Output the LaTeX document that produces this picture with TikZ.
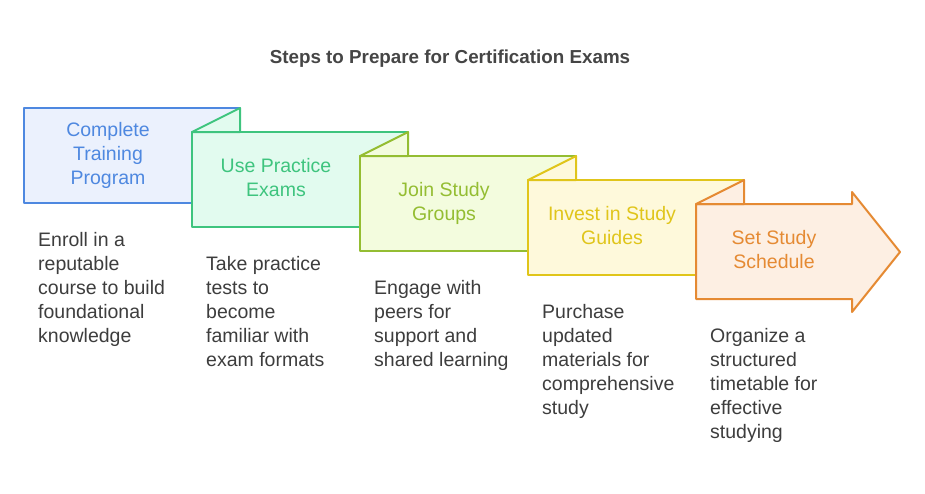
\documentclass[tikz,border=0pt]{standalone}
\usepackage{fontspec}
\setmainfont{Liberation Sans}
\definecolor{ink}{HTML}{3D3D3D}
\definecolor{titleink}{HTML}{454545}
\definecolor{stepblue}{HTML}{4E88E0}
\definecolor{backblue}{HTML}{EBF1FD}
\definecolor{stepgreen}{HTML}{3EC47E}
\definecolor{backgreen}{HTML}{E2FBEF}
\definecolor{steplime}{HTML}{94BD32}
\definecolor{backlime}{HTML}{F3FCDE}
\definecolor{stepyellow}{HTML}{E0C51A}
\definecolor{backyellow}{HTML}{FEF9DB}
\definecolor{steporange}{HTML}{E58A33}
\definecolor{backorange}{HTML}{FDEFE3}

\begin{document}
\begin{tikzpicture}[x=1pt,y=-1pt,font=\fontsize{19.5}{24}\selectfont,
  stepbox/.style={line width=2pt,line join=round},
  steptext/.style={align=center,inner sep=0pt},
  desc/.style={align=left,anchor=north west,inner sep=0pt,text=ink}]
  \useasboundingbox (0,0) rectangle (925,493);
  \node[font=\bfseries\fontsize{18.8}{24}\selectfont,text=titleink] (title) at (450,59) {Steps to Prepare for Certification Exams};
  % folded boxes 1-4
  \foreach \i/\s/\f/\t in {0/stepblue/backblue/{Complete\\Training\\Program},
                          1/stepgreen/backgreen/{Use Practice\\Exams},
                          2/steplime/backlime/{Join Study\\Groups},
                          3/stepyellow/backyellow/{Invest in Study\\Guides}}
  {
    \pgfmathsetmacro\x{24+168*\i}
    \pgfmathsetmacro\y{108+24*\i}
    \draw[stepbox,\s,fill=\f] (\x,\y) rectangle (\x+216,\y+95);
    \ifnum\i>0
      \draw[stepbox,\s,fill=\f] (\x,\y) -- (\x+48,\y-24) -- (\x+48,\y) -- cycle;
    \fi
    \node[steptext,text=\s] (l\i) at (\x+84,\y+48) {\strut\t\strut};
  }
  % last step as arrow
  \draw[stepbox,steporange,fill=backorange] (696,204) -- (852,204) -- (852,192) -- (900,252)
     -- (852,312) -- (852,299) -- (696,299) -- cycle;
  \draw[stepbox,steporange,fill=backorange] (696,204) -- (744,180) -- (744,204) -- cycle;
  \node[steptext,text=steporange] (l4) at (774,252) {\strut Set Study\\Schedule\strut};
  % descriptions
  \foreach \i/\t in {0/{Enroll in a\\reputable\\course to build\\foundational\\knowledge},
                     1/{Take practice\\tests to\\become\\familiar with\\exam formats},
                     2/{Engage with\\peers for\\support and\\shared learning},
                     3/{Purchase\\updated\\materials for\\comprehensive\\study},
                     4/{Organize a\\structured\\timetable for\\effective\\studying}}
    \node[desc] (d\i) at (38+168*\i,229.7+24*\i) {\strut\t};
\end{tikzpicture}
\end{document}
